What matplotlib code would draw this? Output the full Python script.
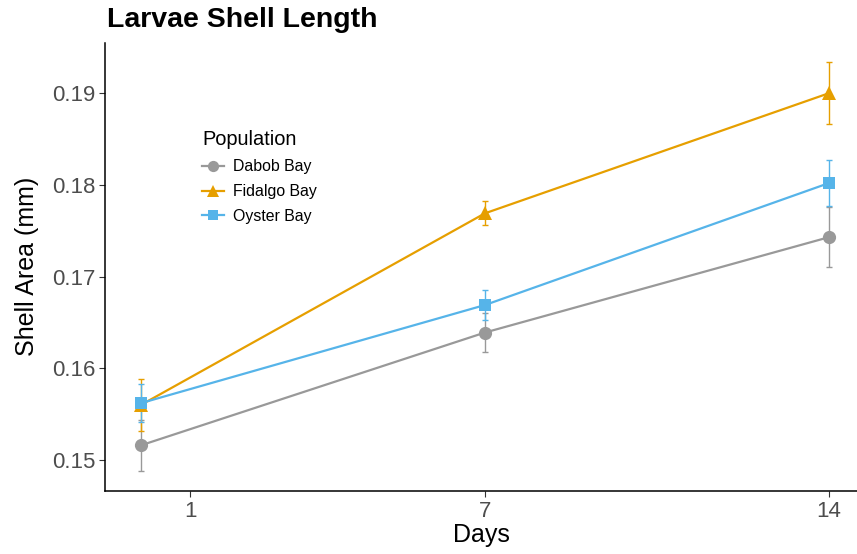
import matplotlib
matplotlib.use("Agg")
import matplotlib.pyplot as plt
from matplotlib.lines import Line2D

plt.rcParams['font.family'] = ['Liberation Sans', 'DejaVu Sans']

# Sampling days and mean shell area per population
days = [0, 7, 14]
populations = ["Dabob Bay", "Fidalgo Bay", "Oyster Bay"]
dabob_mean = [0.1516, 0.1639, 0.1743]
dabob_se = [0.0028, 0.0021, 0.0033]
fidalgo_mean = [0.1560, 0.1769, 0.1900]
fidalgo_se = [0.0028, 0.0013, 0.0034]
oyster_mean = [0.1562, 0.1669, 0.1802]
oyster_se = [0.0021, 0.0016, 0.0025]

x_ticks = [1, 7, 14]
y_ticks = [0.15, 0.16, 0.17, 0.18, 0.19]

colors = ["#999999", "#E69F00", "#56B4E9"]
markers = ["o", "^", "s"]
means = [dabob_mean, fidalgo_mean, oyster_mean]
ses = [dabob_se, fidalgo_se, oyster_se]

fig = plt.figure(figsize=(8.57, 5.54), dpi=100)
ax = fig.add_axes([0.1225, 0.1137, 0.8775, 0.8093])

for m, c in zip(means, colors):
    ax.plot(days, m, color=c, lw=1.6, zorder=2)
for m, s, c in zip(means, ses, colors):
    ax.errorbar(days, m, yerr=s, fmt="none", ecolor=c, elinewidth=1.0,
                capsize=2.2, capthick=1.0, zorder=3)
sizes = [9.5, 10.5, 9]
for m, c, mk, ms in zip(means, colors, markers, sizes):
    ax.plot(days, m, linestyle="none", marker=mk, color=c, markersize=ms,
            markeredgewidth=0, zorder=4)

ax.set_xlim(-0.73, 14.57)
ax.set_ylim(0.14662, 0.19551)
ax.set_xticks(x_ticks)
ax.set_xticklabels([str(t) for t in x_ticks])
ax.set_yticks(y_ticks)
ax.set_yticklabels([f"{t:.2f}" for t in y_ticks])
ax.tick_params(axis="both", labelsize=16, labelcolor="#4D4D4D", length=4,
               width=0.8, color="#333333", pad=3)

ax.spines["top"].set_visible(False)
ax.spines["right"].set_visible(False)
ax.spines["left"].set_linewidth(1.1)
ax.spines["bottom"].set_linewidth(1.1)

ax.set_xlabel("Days", fontsize=18, labelpad=1)
ax.set_ylabel("Shell Area (mm)", fontsize=18, labelpad=9)
fig.text(0.125, 0.951, "Larvae Shell Length", fontsize=20.5, fontweight="bold",
         ha="left", va="baseline")

handles = [Line2D([0], [0], color=c, lw=1.6, marker=mk, markersize=ms * 0.85,
                  markeredgewidth=0)
           for c, mk, ms in zip(colors, markers, sizes)]
leg = ax.legend(handles, populations, loc="upper left",
                bbox_to_anchor=(0.11, 0.836), frameon=False, fontsize=11.4,
                title="Population", title_fontsize=14.4, handlelength=1.4,
                handletextpad=0.55, labelspacing=0.62)
leg._legend_box.align = "left"

fig.savefig("out.png", dpi=100)
